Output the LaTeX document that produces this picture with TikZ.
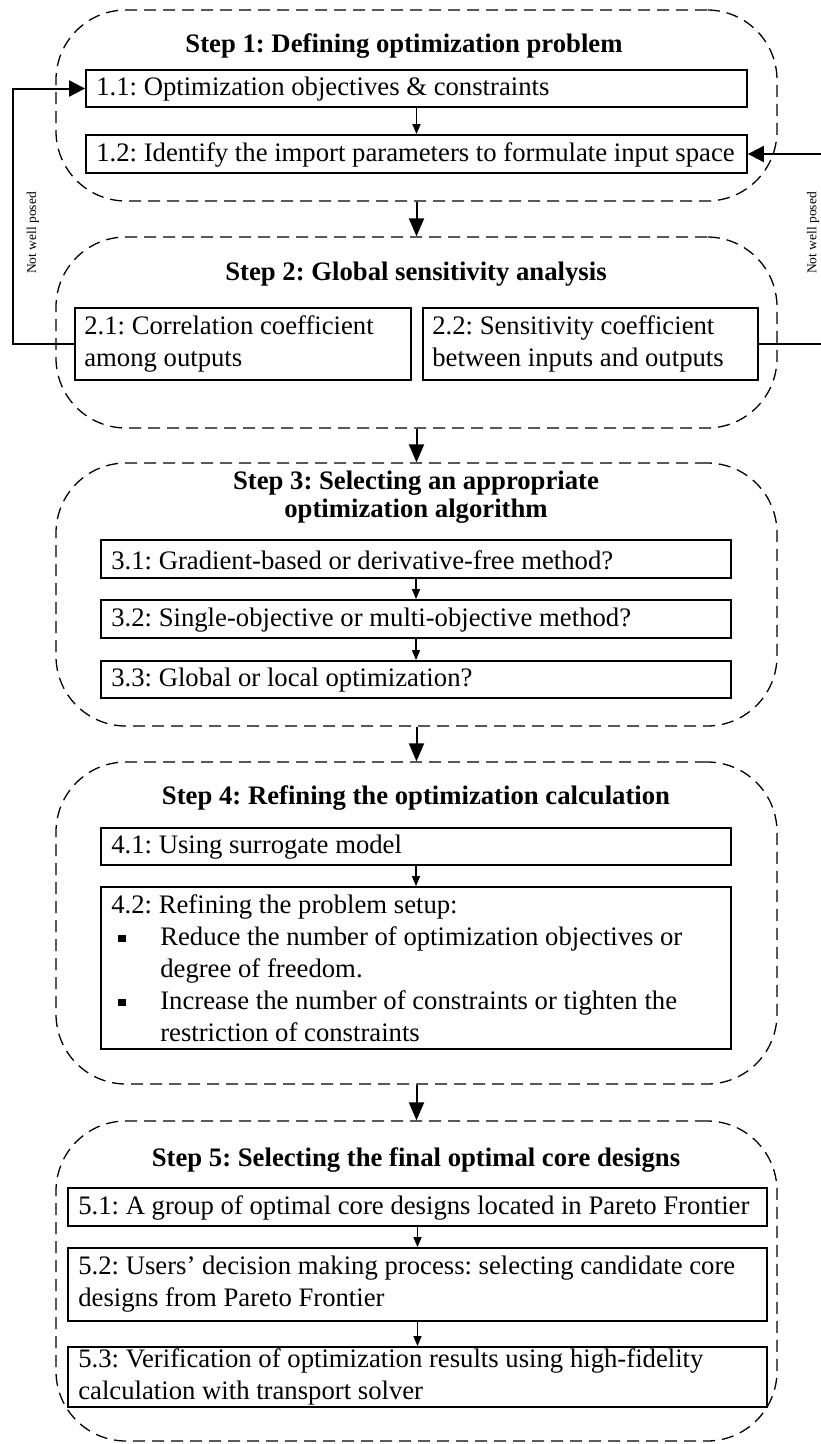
\documentclass[tikz,border=0pt]{standalone}
\usepackage{fontspec}
\setmainfont{Liberation Serif}
\usetikzlibrary{arrows.meta}
\newcommand\bulitem{\makebox[49pt][l]{\hspace{7pt}\raisebox{3pt}{\rule{7.5pt}{7.5pt}}}}
\frenchspacing
\begin{document}
\begin{tikzpicture}[x=1pt,y=-1pt,
  txt/.style={font=\fontsize{26.7}{32}\selectfont, inner sep=0pt, align=left, anchor=west},
  ttl/.style={font=\fontsize{26.7}{28}\selectfont\bfseries, inner sep=0pt, align=center},
  box/.style={draw, line width=1.8pt, inner sep=0pt},
  frame/.style={draw, dash pattern=on 12pt off 7pt, line width=1.3pt, rounded corners=70pt, inner sep=0pt, minimum width=721pt},
  sub/.style={-{Triangle[length=10pt,width=8pt]}, line width=1.5pt},
  stp/.style={-{Triangle[length=18pt,width=15pt]}, line width=2pt},
  fb/.style={-{Triangle[length=16pt,width=16pt]}, line width=2pt},
  note/.style={font=\fontsize{13.5}{15}\selectfont, rotate=90, inner sep=0pt}
]
\useasboundingbox (0,0) rectangle (820,1444);

% step frames
\node[frame, minimum height=191pt] (s1) at (416.5,105.5) {};
\node[frame, minimum height=191pt] (s2) at (416.5,332.5) {};
\node[frame, minimum height=263pt] (s3) at (416.5,594.5) {};
\node[frame, minimum height=322pt] (s4) at (416.5,923) {};
\node[frame, minimum height=320pt] (s5) at (416.5,1281) {};

% titles
\node[ttl] (t1) at (404,46) {Step 1: Defining optimization problem};
\node[ttl] (t2) at (416,274) {Step 2: Global sensitivity analysis};
\node[ttl] (t3) at (416,497) {Step 3: Selecting an appropriate\\optimization algorithm};
\node[ttl] (t4) at (416,798) {Step 4: Refining the optimization calculation};
\node[ttl] (t5) at (416,1160) {Step 5: Selecting the final optimal core designs};

% step 1
\node[box, minimum width=661pt, minimum height=37pt] (b11) at (416.5,88.5) {};
\node[txt] (x11) at ([xshift=11pt,yshift=-1pt]b11.west) {1.1: Optimization objectives \& constraints};
\node[box, minimum width=661pt, minimum height=38pt] (b12) at (416.5,154) {};
\node[txt] (x12) at ([xshift=11pt,yshift=-1pt]b12.west) {1.2: Identify the import parameters to formulate input space};

% step 2
\node[box, minimum width=336pt, minimum height=72pt] (b21) at (243,344) {};
\node[txt] (x21) at ([xshift=10pt]b21.west) {2.1: Correlation coefficient\\among outputs};
\node[box, minimum width=335pt, minimum height=72pt] (b22) at (590.5,344) {};
\node[txt] (x22) at ([xshift=10pt]b22.west) {2.2: Sensitivity coefficient\\between inputs and outputs};

% step 3
\node[box, minimum width=630pt, minimum height=38pt] (b31) at (416,559) {};
\node[txt] (x31) at ([xshift=11pt,yshift=-1pt]b31.west) {3.1: Gradient-based or derivative-free method?};
\node[box, minimum width=630pt, minimum height=38pt] (b32) at (416,619) {};
\node[txt] (x32) at ([xshift=11pt,yshift=-1pt]b32.west) {3.2: Single-objective or multi-objective method?};
\node[box, minimum width=630pt, minimum height=37pt] (b33) at (416,679.5) {};
\node[txt] (x33) at ([xshift=11pt,yshift=-1pt]b33.west) {3.3: Global or local optimization?};

% step 4
\node[box, minimum width=630pt, minimum height=37pt] (b41) at (416,846.5) {};
\node[txt] (x41) at ([xshift=11pt,yshift=-1pt]b41.west) {4.1: Using surrogate model};
\node[box, minimum width=630pt, minimum height=162pt] (b42) at (416,968) {};
\node[txt] (x42) at ([xshift=11pt]b42.west) {4.2: Refining the problem setup:\\
\bulitem Reduce the number of optimization objectives or\\
\hspace*{49pt}degree of freedom.\\
\bulitem Increase the number of constraints or tighten the\\
\hspace*{49pt}restriction of constraints};

% step 5
\node[box, minimum width=699pt, minimum height=38pt] (b51) at (417.5,1207) {};
\node[txt] (x51) at ([xshift=11pt,yshift=-1pt]b51.west) {5.1: A group of optimal core designs located in Pareto Frontier};
\node[box, minimum width=699pt, minimum height=73pt] (b52) at (417.5,1284.5) {};
\node[txt] (x52) at ([xshift=11pt]b52.west) {5.2: Users’ decision making process: selecting candidate core\\designs from Pareto Frontier};
\node[box, minimum width=699pt, minimum height=60pt] (b53) at (417.5,1377) {};
\node[txt] (x53) at ([xshift=11pt]b53.west) {5.3: Verification of optimization results using high-fidelity\\calculation with transport solver};

% inner arrows
\draw[sub] (b11.south) -- (b12.north);
\draw[sub] (b31.south) -- (b32.north);
\draw[sub] (b32.south) -- (b33.north);
\draw[sub] (b41.south) -- (b42.north);
\draw[sub] (b51.south) -- (b52.north);
\draw[sub] (b52.south) -- (b53.north);

% step arrows
\draw[stp] (s1.south) -- (s2.north);
\draw[stp] (s2.south) -- (s3.north);
\draw[stp] (s3.south) -- (s4.north);
\draw[stp] (s4.south) -- (s5.north);

% feedback loops
\coordinate (lft) at (13,230);
\coordinate (rgt) at (823,230);
\draw[fb] (b21.west) -| (lft) |- (b11.west);
\draw[fb] (b22.east) -| (rgt) |- (b12.east);
\node[note] (n1) at (33,233) {Not well posed};
\node[note] (n2) at (813,233) {Not well posed};
\end{tikzpicture}
\end{document}
